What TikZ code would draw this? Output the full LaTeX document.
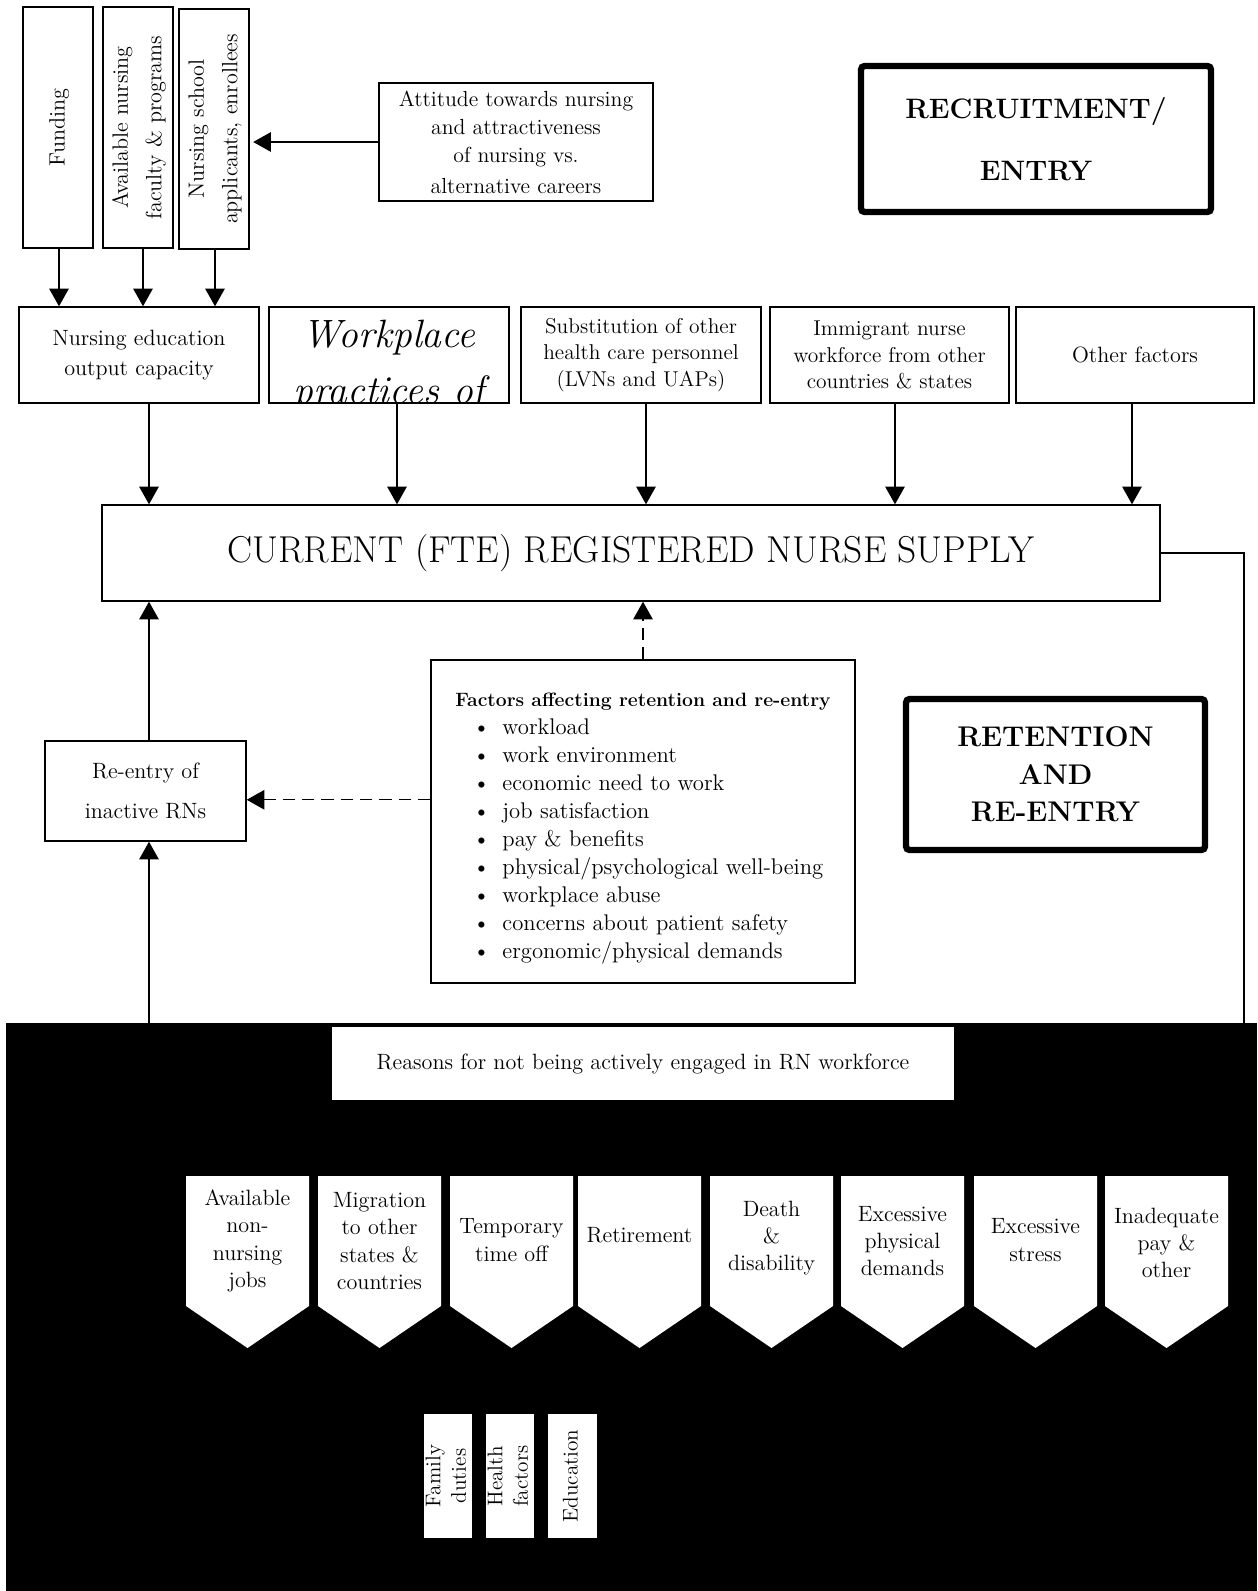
\documentclass[tikz,border=0pt]{standalone}
\usepackage{tikz}
\usetikzlibrary{arrows.meta,positioning,calc}

\newcommand{\bxfont}{\fontsize{12.6}{16.5}\selectfont}
\newcommand{\rot}[1]{\rotatebox{90}{\begin{tabular}{@{}c@{}}#1\end{tabular}}}

\begin{document}
\begin{tikzpicture}[x=0.02cm,y=-0.02cm,
 box/.style={draw,line width=0.8pt,inner sep=0pt,align=center,font=\bxfont,fill=white},
 heavy/.style={draw,line width=3.6pt,rounded corners=2pt,inner sep=0pt,align=center},
 arr/.style={line width=0.75pt,-{Triangle[width=11pt,length=10pt]}},
 dasharr/.style={arr,dash pattern=on 7pt off 4pt}]
\useasboundingbox (0,0) rectangle (1257,1591);

% outflow area
\node[fill=black,inner sep=0pt,minimum width=25.02cm,minimum height=11.36cm] (outflow) at (631.5,1307) {};
\coordinate (rturn) at (1244,1023);
\coordinate (lup) at (149,1023);

% recruitment / entry
\node[box,minimum width=1.4cm,minimum height=4.82cm,font=\fontsize{12.6}{19}\selectfont] (funding) at (58,127.5) {\rot{Funding}};
\node[box,minimum width=1.4cm,minimum height=4.82cm,font=\fontsize{12.6}{19}\selectfont] (avail) at (138,127.5) {\rot{Available nursing\\faculty \& programs}};
\node[box,minimum width=1.4cm,minimum height=4.8cm,font=\fontsize{12.6}{19}\selectfont] (school) at (214,129) {\rot{Nursing school\\applicants, enrollees}};
\node[box,minimum width=5.48cm,minimum height=2.36cm,font=\fontsize{12.4}{16}\selectfont] (attitude) at (516,142) {Attitude towards nursing\\and attractiveness\\of nursing vs.\\[1.5pt]alternative careers};
\node[heavy,minimum width=7.0cm,minimum height=2.92cm,font=\fontsize{16}{35}\selectfont\bfseries] (recruit) at (1036,139) {RECRUITMENT/\\ENTRY};

\node[box,minimum width=4.8cm,minimum height=1.92cm,font=\fontsize{12.6}{17}\selectfont] (nedu) at (139,355) {Nursing education\\output capacity};
\node[box,minimum width=4.8cm,minimum height=1.92cm] (work) at (389,355) {};
\begin{scope}
 \clip (work.south west) rectangle (work.north east);
 \node[font=\fontsize{22.5}{32}\selectfont\itshape,align=center,inner sep=0pt] (worktxt) at (389,366) {Workplace\\practices of};
\end{scope}
\node[box,minimum width=4.8cm,minimum height=1.92cm,font=\fontsize{12.2}{15.2}\selectfont] (subst) at (641,355) {Substitution of other\\health care personnel\\(LVNs and UAPs)};
\node[box,minimum width=4.78cm,minimum height=1.92cm,font=\fontsize{12.2}{15}\selectfont] (immig) at (889.5,355) {Immigrant nurse\\workforce from other\\countries \& states};
\node[box,minimum width=4.76cm,minimum height=1.92cm] (other) at (1135,355) {Other factors};

\node[box,minimum width=21.16cm,minimum height=1.92cm,font=\fontsize{21.3}{25}\selectfont] (current) at (631,553) {CURRENT (FTE) REGISTERED NURSE SUPPLY};

% retention / re-entry
\node[box,minimum width=4.02cm,minimum height=2.0cm] (reentry) at (145.5,791) {Re-entry of\\[6pt]inactive RNs};
\node[box,minimum width=8.48cm,minimum height=6.46cm,align=left,font=\fontsize{12.9}{15.9}\selectfont] (factors) at (643,821.5)
 {\rule{0pt}{16pt}{\fontsize{11}{15.9}\selectfont\bfseries Factors affecting retention and re-entry}\\
  \hspace*{10pt}\textbullet\hspace{7pt}workload\\
  \hspace*{10pt}\textbullet\hspace{7pt}work environment\\
  \hspace*{10pt}\textbullet\hspace{7pt}economic need to work\\
  \hspace*{10pt}\textbullet\hspace{7pt}job satisfaction\\
  \hspace*{10pt}\textbullet\hspace{7pt}pay \& benefits\\
  \hspace*{10pt}\textbullet\hspace{7pt}physical/psychological well-being\\
  \hspace*{10pt}\textbullet\hspace{7pt}workplace abuse\\
  \hspace*{10pt}\textbullet\hspace{7pt}concerns about patient safety\\[0.5pt]
  \hspace*{10pt}\textbullet\hspace{7pt}ergonomic/physical demands};
\node[heavy,minimum width=5.98cm,minimum height=3.02cm,font=\fontsize{16.2}{21.3}\selectfont\bfseries] (retention) at (1055.5,774.5) {RETENTION\\AND\\RE-ENTRY};

% reasons for leaving
\node[box,draw=none,minimum width=12.44cm,minimum height=1.46cm] (reasons) at (643,1063.5) {Reasons for not being actively engaged in RN workforce};
\foreach \i/\xa/\ya/\txt in {1/186/1241/{Available\\non-\\nursing\\jobs},2/318/1241/{Migration\\to other\\states \&\\countries},
 3/450/1240/{Temporary\\time off},4/578/1235/{Retirement},5/710/1238/{Death\\\&\\disability},
 6/841/1241/{Excessive\\physical\\demands},7/974/1240/{Excessive\\stress},8/1105/1243/{Inadequate\\pay \&\\other}}
{\fill[white] (\xa,1176) -- ++(123,0) -- ++(0,130) -- ++(-61.5,42) -- ++(-61.5,-42) -- cycle;
 \node[font=\fontsize{12.6}{15.6}\selectfont,align=center,inner sep=0pt] (why\i) at (\xa+61.5,\ya) {\txt};}

\node[box,draw=none,minimum width=0.96cm,minimum height=2.48cm,font=\fontsize{12.1}{14.5}\selectfont] (family) at (448,1476) {\makebox[0pt]{\rot{Family\\duties}}};
\node[box,draw=none,minimum width=0.96cm,minimum height=2.48cm,font=\fontsize{12.1}{14.5}\selectfont] (health) at (510,1476) {\makebox[0pt]{\rot{Health\\factors}}};
\node[box,draw=none,minimum width=0.98cm,minimum height=2.48cm,font=\fontsize{12.1}{14.5}\selectfont] (educ) at (572.5,1476) {\makebox[0pt]{\rot{Education}}};

% connectors
\foreach \n/\x in {funding/59,avail/143,school/215}
{\path (\x,0) coordinate (t\n);
 \draw[arr] (\n.south -| t\n) -- (nedu.north -| t\n);}
\draw[arr] (attitude.west) -- ([xshift=2pt]school.east |- attitude.west);
\foreach \n/\x in {nedu/149,work/397,subst/646,immig/895,other/1132}
{\path (\x,0) coordinate (t\n);
 \draw[arr] (\n.south -| t\n) -- (current.north -| t\n);}
\draw[line width=0.75pt] (current.east) -| (rturn);
\draw[arr] (lup) -- (lup |- reentry.south);
\draw[arr] (lup |- reentry.north) -- (lup |- current.south);
\coordinate (dl) at ([yshift=-5pt]reentry.east);
\draw[dasharr] (factors.west |- dl) -- (dl);
\draw[dasharr] (factors.north) -- (factors.north |- current.south);
\end{tikzpicture}
\end{document}
